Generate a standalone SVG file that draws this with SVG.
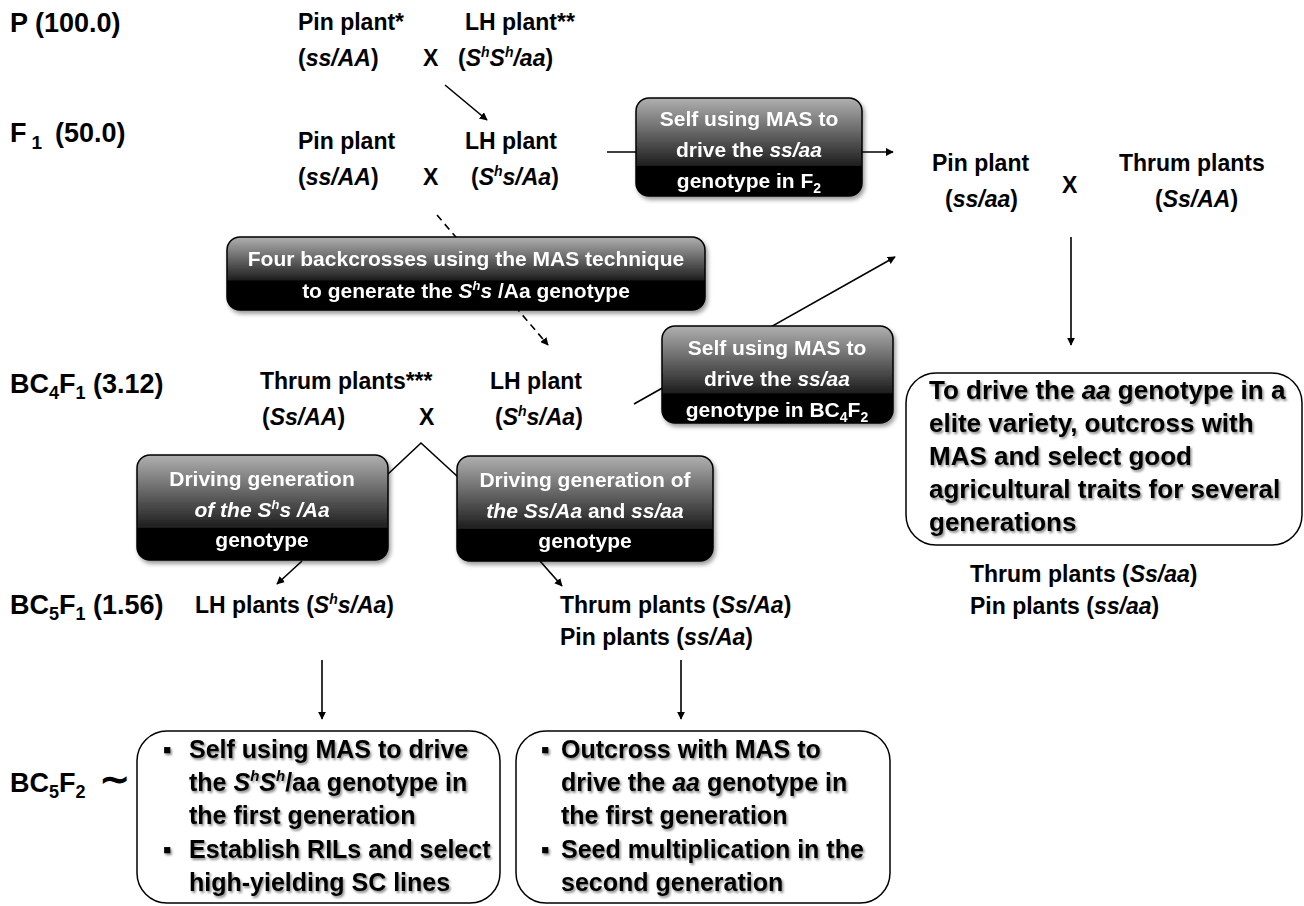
<svg xmlns="http://www.w3.org/2000/svg" width="1304" height="906" viewBox="0 0 1304 906">
<style>
text{font-family:"Liberation Sans",Arial,sans-serif;font-weight:bold;fill:#000}
.gen{font-size:27px}
.pl{font-size:23px}
.bx{font-size:21px;fill:#fff;text-anchor:middle}
.wt{font-size:25px}
.wt2{font-size:26px}
.it{font-style:italic}
.conn{stroke:#000;stroke-width:1.6;fill:none}
.gbox{stroke:#000;stroke-width:1.5}
.wbox{fill:#fff;stroke:#000;stroke-width:1.5}
</style>
<defs>
<marker id="ah" viewBox="0 0 10 10" refX="9" refY="5" markerWidth="8" markerHeight="8" markerUnits="userSpaceOnUse" orient="auto"><path d="M0,0 L10,5 L0,10 z" fill="#000"/></marker>
<linearGradient id="g70" x1="0" y1="0" x2="0" y2="1"><stop offset="0" stop-color="#b0b0b0"/><stop offset="0.69" stop-color="#1e1e1e"/><stop offset="0.7" stop-color="#000"/><stop offset="1" stop-color="#000"/></linearGradient>
<linearGradient id="g60" x1="0" y1="0" x2="0" y2="1"><stop offset="0" stop-color="#b0b0b0"/><stop offset="0.59" stop-color="#1e1e1e"/><stop offset="0.6" stop-color="#000"/><stop offset="1" stop-color="#000"/></linearGradient>
<filter id="sh" x="-10%" y="-10%" width="130%" height="140%"><feDropShadow dx="2" dy="3" stdDeviation="2" flood-color="#000" flood-opacity="0.4"/></filter>
<filter id="tsh" x="-5%" y="-20%" width="110%" height="150%"><feDropShadow dx="1.5" dy="2" stdDeviation="1.2" flood-color="#000" flood-opacity="0.45"/></filter>
</defs>

<g id="connectors">
<line class="conn" x1="445" y1="85" x2="487" y2="120" marker-end="url(#ah)"/>
<line class="conn" x1="607" y1="152" x2="893" y2="152" marker-end="url(#ah)"/>
<line class="conn" x1="437" y1="215" x2="548" y2="345" stroke-dasharray="7,5" marker-end="url(#ah)"/>
<line class="conn" x1="634" y1="404" x2="895" y2="257" marker-end="url(#ah)"/>
<line class="conn" x1="1071" y1="237" x2="1071" y2="345" marker-end="url(#ah)"/>
<polyline class="conn" points="388,474 421,443 458,477"/>
<line class="conn" x1="302" y1="561" x2="277" y2="584" marker-end="url(#ah)"/>
<line class="conn" x1="540" y1="561" x2="562" y2="586" marker-end="url(#ah)"/>
<line class="conn" x1="322" y1="660" x2="322" y2="719" marker-end="url(#ah)"/>
<line class="conn" x1="681" y1="660" x2="681" y2="719" marker-end="url(#ah)"/>
</g>

<g id="labels">
<text class="gen" x="10" y="32">P (100.0)</text>
<text class="gen" x="10" y="142">F<tspan font-size="19" dx="5" dy="7">1</tspan><tspan dx="13" dy="-7">(50.0)</tspan></text>
<text class="gen" x="10" y="393">BC<tspan font-size="18" dy="6">4</tspan><tspan dy="-6">F</tspan><tspan font-size="18" dy="6">1</tspan><tspan dy="-6"> (3.12)</tspan></text>
<text class="gen" x="10" y="614">BC<tspan font-size="18" dy="6">5</tspan><tspan dy="-6">F</tspan><tspan font-size="18" dy="6">1</tspan><tspan dy="-6"> (1.56)</tspan></text>
<text class="gen" x="10" y="792">BC<tspan font-size="18" dy="6">5</tspan><tspan dy="-6">F</tspan><tspan font-size="18" dy="6">2</tspan><tspan dy="-6" font-size="38" font-family="DejaVu Sans,sans-serif"> ∼</tspan></text>
</g>

<g id="p-pin">
<text class="pl" x="298" y="30">Pin plant*</text>
<text class="pl" x="298" y="66">(<tspan class="it">ss/AA</tspan>)</text>
</g>
<g id="p-x"><text class="pl" x="423" y="66">X</text></g>
<g id="p-lh">
<text class="pl" x="465" y="30">LH plant**</text>
<text class="pl" x="458" y="66">(<tspan class="it">S<tspan font-size="14" dy="-9">h</tspan><tspan dy="9">S</tspan><tspan font-size="14" dy="-9">h</tspan><tspan dy="9">/aa</tspan></tspan>)</text>
</g>

<g id="f1-pin">
<text class="pl" x="298" y="149">Pin plant</text>
<text class="pl" x="298" y="185">(<tspan class="it">ss/AA</tspan>)</text>
</g>
<g id="f1-x"><text class="pl" x="423" y="185">X</text></g>
<g id="f1-lh">
<text class="pl" x="465" y="149">LH plant</text>
<text class="pl" x="471" y="185">(<tspan class="it">S<tspan font-size="14" dy="-9">h</tspan><tspan dy="9">s/Aa</tspan></tspan>)</text>
</g>

<g id="box-self-f2" filter="url(#sh)">
<rect class="gbox" x="636" y="98" width="226" height="98" rx="13" fill="url(#g70)"/>
<text class="bx" x="749" y="126">Self using MAS to</text>
<text class="bx" x="749" y="157">drive the <tspan class="it">ss/aa</tspan></text>
<text class="bx" x="749" y="188">genotype in F<tspan font-size="14" dy="5">2</tspan></text>
</g>

<g id="f2-pin">
<text class="pl" x="932" y="171">Pin plant</text>
<text class="pl" x="945" y="207">(<tspan class="it">ss/aa</tspan>)</text>
</g>
<g id="f2-x"><text class="pl" x="1062" y="193">X</text></g>
<g id="f2-thrum">
<text class="pl" x="1119" y="171">Thrum plants</text>
<text class="pl" x="1155" y="207">(<tspan class="it">Ss/AA</tspan>)</text>
</g>

<g id="box-backcross" filter="url(#sh)">
<rect class="gbox" x="227" y="237" width="478" height="73" rx="13" fill="url(#g60)"/>
<text class="bx" x="466" y="266">Four backcrosses using the MAS technique</text>
<text class="bx" x="466" y="298">to generate the <tspan class="it">S<tspan font-size="13" dy="-8">h</tspan><tspan dy="8">s</tspan></tspan> /Aa genotype</text>
</g>

<g id="box-self-bc4f2" filter="url(#sh)">
<rect class="gbox" x="662" y="326" width="231" height="97" rx="13" fill="url(#g70)"/>
<text class="bx" x="777" y="355">Self using MAS to</text>
<text class="bx" x="777" y="386">drive the <tspan class="it">ss/aa</tspan></text>
<text class="bx" x="777" y="417">genotype in BC<tspan font-size="14" dy="5">4</tspan><tspan dy="-5">F</tspan><tspan font-size="14" dy="5">2</tspan></text>
</g>

<g id="bc4-thrum">
<text class="pl" x="260" y="389">Thrum plants***</text>
<text class="pl" x="262" y="425">(<tspan class="it">Ss/AA</tspan>)</text>
</g>
<g id="bc4-x"><text class="pl" x="419" y="425">X</text></g>
<g id="bc4-lh">
<text class="pl" x="490" y="389">LH plant</text>
<text class="pl" x="495" y="425">(<tspan class="it">S<tspan font-size="14" dy="-9">h</tspan><tspan dy="9">s/Aa</tspan></tspan>)</text>
</g>

<g id="box-elite">
<rect class="wbox" x="906" y="373" width="396" height="172" rx="30"/>
<g filter="url(#tsh)">
<text class="wt2" x="929" y="399">To drive the <tspan class="it">aa</tspan> genotype in a</text>
<text class="wt2" x="929" y="432">elite variety, outcross with</text>
<text class="wt2" x="929" y="465">MAS and select good</text>
<text class="wt2" x="929" y="498">agricultural traits for several</text>
<text class="wt2" x="929" y="531">generations</text>
</g>
</g>

<g id="elite-out">
<text class="pl" x="970" y="582">Thrum plants (<tspan class="it">Ss/aa</tspan>)</text>
<text class="pl" x="970" y="614">Pin plants (<tspan class="it">ss/aa</tspan>)</text>
</g>

<g id="box-drive-lh" filter="url(#sh)">
<rect class="gbox" x="137" y="455" width="251" height="105" rx="13" fill="url(#g70)"/>
<text class="bx" x="262" y="486">Driving generation</text>
<text class="bx" x="262" y="517"><tspan class="it">of the S<tspan font-size="13" dy="-8">h</tspan><tspan dy="8">s /Aa</tspan></tspan></text>
<text class="bx" x="262" y="547">genotype</text>
</g>

<g id="box-drive-thrum" filter="url(#sh)">
<rect class="gbox" x="457" y="456" width="256" height="105" rx="13" fill="url(#g70)"/>
<text class="bx" x="585" y="487">Driving generation of</text>
<text class="bx" x="585" y="518"><tspan class="it">the Ss/Aa</tspan> and <tspan class="it">ss/aa</tspan></text>
<text class="bx" x="585" y="548">genotype</text>
</g>

<g id="bc5-lh">
<text class="pl" x="195" y="613">LH plants (<tspan class="it">S<tspan font-size="14" dy="-9">h</tspan><tspan dy="9">s/Aa</tspan></tspan>)</text>
</g>
<g id="bc5-thrum">
<text class="pl" x="560" y="613">Thrum plants (<tspan class="it">Ss/Aa</tspan>)</text>
<text class="pl" x="560" y="645">Pin plants (<tspan class="it">ss/Aa</tspan>)</text>
</g>

<g id="box-ril">
<rect class="wbox" x="137" y="731" width="363" height="172" rx="30"/>
<g filter="url(#tsh)">
<text class="wt" x="163" y="758">▪</text>
<text class="wt" x="189" y="758">Self using MAS to drive</text>
<text class="wt" x="189" y="791">the <tspan class="it">S<tspan font-size="15" dy="-10">h</tspan><tspan dy="10">S</tspan><tspan font-size="15" dy="-10">h</tspan></tspan><tspan dy="10">/aa genotype in</tspan></text>
<text class="wt" x="189" y="824">the first generation</text>
<text class="wt" x="163" y="858">▪</text>
<text class="wt" x="189" y="858">Establish RILs and select</text>
<text class="wt" x="189" y="891">high-yielding SC lines</text>
</g>
</g>

<g id="box-outcross">
<rect class="wbox" x="516" y="731" width="374" height="172" rx="30"/>
<g filter="url(#tsh)">
<text class="wt" x="541" y="758">▪</text>
<text class="wt" x="561" y="758">Outcross with MAS to</text>
<text class="wt" x="561" y="791">drive the <tspan class="it">aa</tspan> genotype in</text>
<text class="wt" x="561" y="824">the first generation</text>
<text class="wt" x="541" y="858">▪</text>
<text class="wt" x="561" y="858">Seed multiplication in the</text>
<text class="wt" x="561" y="891">second generation</text>
</g>
</g>
</svg>
